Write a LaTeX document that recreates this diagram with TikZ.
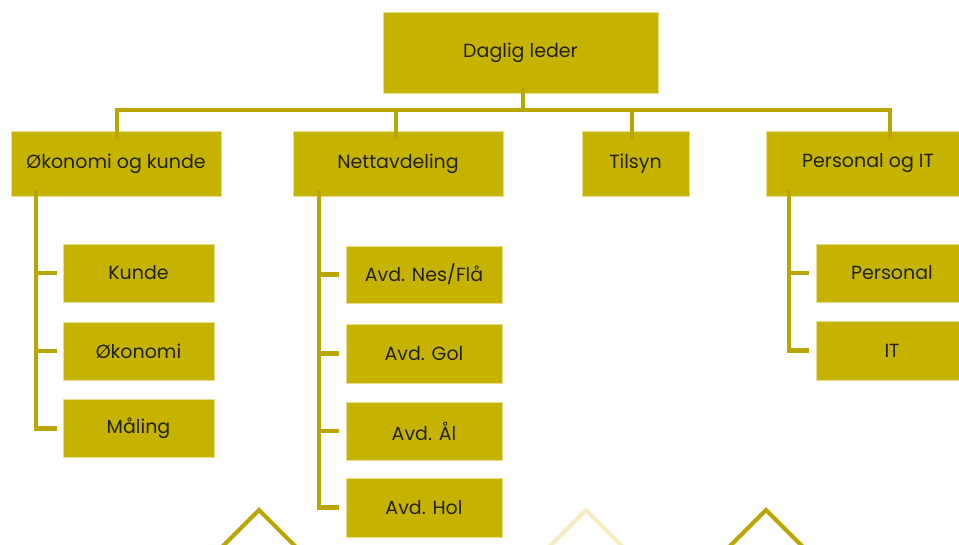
\documentclass[tikz,border=0pt]{standalone}
\usepackage{fontspec}
\setmainfont{Poppins}
\definecolor{boxfill}{HTML}{C5B300}
\definecolor{boxedge}{HTML}{E9DE8A}
\definecolor{linec}{HTML}{BBA500}
\definecolor{palec}{HTML}{F5ECC2}
\definecolor{txt}{HTML}{222200}
\begin{document}
\begin{tikzpicture}[x=1pt,y=-1pt,
  orgbox/.style={draw=boxedge,line width=0.8pt,fill=boxfill,text=txt,inner sep=0pt,
    font=\fontsize{19}{22}\selectfont},
  conn/.style={draw=linec,line width=4.5pt,line join=miter},
  chev/.style={line width=4.2pt,line join=miter}]
\useasboundingbox (0,0) rectangle (959,545);
% top
\node[orgbox,minimum width=275pt,minimum height=81pt] (top) at (520.5,53) {\raisebox{2pt}{Daglig leder}};
% level 1
\node[orgbox,minimum width=210pt,minimum height=65pt] (ok) at (116,163.5) {Økonomi og kunde};
\node[orgbox,minimum width=210pt,minimum height=65pt] (nett) at (398,163.5) {\raisebox{2pt}{Nettavdeling}};
\node[orgbox,minimum width=107pt,minimum height=65pt] (tils) at (635.5,163.5) {\raisebox{2pt}{Tilsyn}};
\node[orgbox,minimum width=210pt,minimum height=65pt] (pers) at (871,163.5) {\hspace*{-6pt}\raisebox{2pt}{Personal og IT}};
% level 2 left
\node[orgbox,minimum width=151pt,minimum height=58pt] (kunde) at (138.5,273) {Kunde};
\node[orgbox,minimum width=151pt,minimum height=58pt] (okon) at (138.5,351) {Økonomi};
\node[orgbox,minimum width=151pt,minimum height=58pt] (maal) at (138.5,428.5) {Måling};
% level 2 middle
\node[orgbox,minimum width=156pt,minimum height=57pt] (nes) at (424,274.5) {Avd. Nes/Flå};
\node[orgbox,minimum width=156pt,minimum height=59pt] (gol) at (424,353.5) {Avd. Gol};
\node[orgbox,minimum width=156pt,minimum height=58pt] (aal) at (424,431) {Avd. Ål};
\node[orgbox,minimum width=156pt,minimum height=59pt] (hol) at (424,507.5) {Avd. Hol};
% level 2 right
\node[orgbox,minimum width=152pt,minimum height=58pt] (persn) at (892,273) {Personal};
\node[orgbox,minimum width=152pt,minimum height=59pt] (it) at (892,350.5) {IT};
% bus coordinates
\coordinate (bus) at (523,110);
\coordinate (busL) at (117,110);
\coordinate (busR) at (890,110);
\draw[conn] ([yshift=6pt]top.south -| bus) -- (bus);
\draw[conn] ([yshift=-8pt]ok.north -| busL) -- (busL) -- (busR) -- ([yshift=-8pt]pers.north -| busR);
\draw[conn] ([yshift=-8pt]nett.north -| 396,0) -- (396,110);
\draw[conn] ([yshift=-8pt]tils.north -| 632,0) -- (632,110);
% left column
\coordinate (lc) at (36,0);
\draw[conn] ([yshift=6pt]ok.south -| lc) |- ([xshift=-6pt]maal.west);
\draw[conn] (kunde.west -| lc) -- ([xshift=-6pt]kunde.west);
\draw[conn] (okon.west -| lc) -- ([xshift=-6pt]okon.west);
% middle column
\coordinate (mc) at (319,0);
\draw[conn] ([yshift=6pt]nett.south -| mc) |- ([xshift=-7pt]hol.west);
\draw[conn] (nes.west -| mc) -- ([xshift=-7pt]nes.west);
\draw[conn] (gol.west -| mc) -- ([xshift=-7pt]gol.west);
\draw[conn] (aal.west -| mc) -- ([xshift=-7pt]aal.west);
% right column
\coordinate (rc) at (789,0);
\draw[conn] ([yshift=6pt]pers.south -| rc) |- ([xshift=-7pt]it.west);
\draw[conn] (persn.west -| rc) -- ([xshift=-7pt]persn.west);
% chevrons
\draw[chev,linec] (221,548) -- (259,510) -- (297,548);
\draw[chev,palec] (548,548) -- (586,510) -- (624,548);
\draw[chev,linec] (728,548) -- (766,510) -- (804,548);
\end{tikzpicture}
\end{document}
